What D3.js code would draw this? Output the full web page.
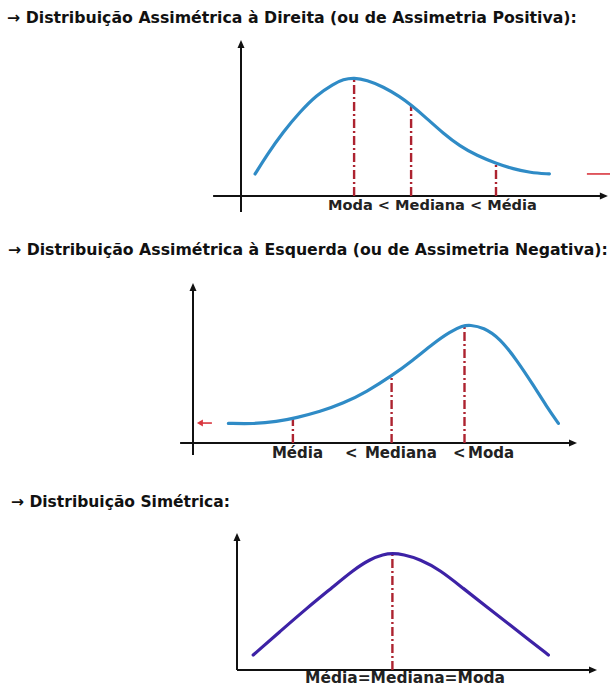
<!DOCTYPE html>
<html>
<head>
<meta charset="utf-8">
<script src="https://cdn.jsdelivr.net/npm/d3@7/dist/d3.min.js"></script>
<style>
  html, body { margin: 0; padding: 0; background: #fff; }
  svg { display: block; }
  text { font-family: "DejaVu Sans", Verdana, sans-serif; font-weight: bold; }
</style>
</head>
<body>
<svg id="chart" width="610" height="690"></svg>
<script>
// Section headings
const titles = [
  "→ Distribuição Assimétrica à Direita (ou de Assimetria Positiva):",
  "→ Distribuição Assimétrica à Esquerda (ou de Assimetria Negativa):",
  "→ Distribuição Simétrica:"
];

// Right-skewed curve (x, density)
const rightX = [4.7, 8.6, 14.1, 19.7, 25.2, 30.8, 34.1, 37.7, 41.9, 47.4, 53, 56.7, 61.9, 67.4, 73, 78.6, 85, 90.8, 96.3, 102.8];
const rightY = [14.7, 27.3, 42.9, 56.2, 67.3, 74.7, 77.8, 78.9, 77.3, 72.9, 66.2, 60.7, 51.8, 41.8, 33.2, 27.0, 21.8, 18.0, 15.6, 14.7];
const rightMarks = [37.7, 56.7, 85];            // moda, mediana, média
const rightLabel = "Moda < Mediana < Média";

// Left-skewed curve
const leftX = [11.8, 20.1, 27.9, 34.6, 42.3, 50.1, 57.9, 66.2, 73.4, 80.1, 85.7, 89.9, 92.3, 96.8, 102.3, 107.9, 113.4, 117.9, 121.8];
const leftY = [13.1, 12.7, 14.2, 16.9, 20.9, 26.4, 34.2, 44.7, 55.3, 66.4, 74.2, 78.2, 78.7, 77.1, 69.8, 55.3, 38.7, 24.2, 13.1];
const leftMarks = [33.3, 66.2, 90.5];           // média, mediana, moda
const leftLabels = ["Média", "<", "Mediana", "<", "Moda"];
const leftLabelX = [26.3, 50.7, 57.3, 86.7, 91.7];

// Symmetric curve
const symX = [5.4, 14.3, 23.2, 32.1, 38.8, 44.3, 48.8, 51.8, 55.4, 61, 67.7, 75.4, 83.2, 91, 97.7, 103.8];
const symY = [10, 25.6, 41.1, 55.6, 66.7, 73.8, 77.1, 77.8, 77.1, 73.8, 66.7, 54.4, 42.2, 30, 19.6, 10];
const symMarks = [51.8];
const symLabel = "Média=Mediana=Moda";

const svg = d3.select("#chart");

// fit a text element to a given pixel width by scaling its font size
function fitWidth(sel, target) {
  const w = sel.node().getComputedTextLength();
  const fs = parseFloat(sel.attr("font-size"));
  sel.attr("font-size", (fs * target / w).toFixed(2));
  return sel;
}

// headings
const titlePos = [{x: 7, y: 23, w: 570}, {x: 8, y: 255, w: 600}, {x: 11, y: 507, w: 219}];
titles.forEach((t, i) => {
  const s = svg.append("text")
    .attr("x", titlePos[i].x).attr("y", titlePos[i].y)
    .attr("font-size", 12).attr("fill", "#111").text(t);
  fitWidth(s, titlePos[i].w);
});

const DASH = "#ad2330";

function panel(cfg) {
  const x = d3.scaleLinear().domain([0, 120]).range([cfg.ox, cfg.ox + 360]);
  const y = d3.scaleLinear().domain([0, 100]).range([cfg.oy, cfg.oy - 150]);
  const g = svg.append("g");

  // axes
  g.append("line")
    .attr("x1", x(cfg.xAxis[0])).attr("x2", x(cfg.xAxis[1]) - 6)
    .attr("y1", y(0)).attr("y2", y(0))
    .attr("stroke", "#111").attr("stroke-width", 2);
  g.append("path")
    .attr("d", `M${x(cfg.xAxis[1])},${y(0)} l-8,-3.5 l0,7 z`)
    .attr("fill", "#111");
  g.append("line")
    .attr("x1", x(0)).attr("x2", x(0))
    .attr("y1", y(cfg.yAxis[0])).attr("y2", y(cfg.yAxis[1]) + 6)
    .attr("stroke", "#111").attr("stroke-width", 2);
  g.append("path")
    .attr("d", `M${x(0)},${y(cfg.yAxis[1])} l-3.5,8 l7,0 z`)
    .attr("fill", "#111");

  const pts = cfg.xs.map((v, i) => [v, cfg.ys[i]]);
  const line = d3.line().x(d => x(d[0])).y(d => y(d[1])).curve(d3.curveBasis);

  // dash-dot reference lines from the axis up to the curve
  const interp = v => {
    for (let i = 0; i < pts.length - 1; i++) {
      if (v >= pts[i][0] && v <= pts[i + 1][0]) {
        const t = (v - pts[i][0]) / (pts[i + 1][0] - pts[i][0]);
        return pts[i][1] + t * (pts[i + 1][1] - pts[i][1]);
      }
    }
    return 0;
  };
  cfg.marks.forEach(m => {
    g.append("line")
      .attr("x1", x(m)).attr("x2", x(m))
      .attr("y1", y(0)).attr("y2", y(interp(m)))
      .attr("stroke", DASH).attr("stroke-width", 2.4)
      .attr("stroke-dasharray", "9,3,2,3");
  });

  g.append("path")
    .attr("d", line(pts))
    .attr("fill", "none")
    .attr("stroke", cfg.color).attr("stroke-width", 3.2)
    .attr("stroke-linecap", "round");

  return {x, y, g};
}

// right-skewed
const p1 = panel({ox: 241, oy: 196, xAxis: [-9.3, 122.3], yAxis: [-10.7, 104],
  xs: rightX, ys: rightY, marks: rightMarks, color: "#2f8bc6"});
fitWidth(p1.g.append("text")
  .attr("x", p1.x(29)).attr("y", 210).attr("font-size", 12).attr("fill", "#222")
  .text(rightLabel), 209);
// red arrow at right
p1.g.append("line")
  .attr("x1", p1.x(115.3)).attr("x2", p1.x(124)).attr("y1", p1.y(14.7)).attr("y2", p1.y(14.7))
  .attr("stroke", "#d9363e").attr("stroke-width", 1.6);

// left-skewed
const p2 = panel({ox: 193, oy: 443, xAxis: [-4.3, 128], yAxis: [-8, 106.7],
  xs: leftX, ys: leftY, marks: leftMarks, color: "#2f8bc6"});
const lbl = leftLabels.map((t, i) => p2.g.append("text")
  .attr("x", p2.x(leftLabelX[i])).attr("y", 458).attr("font-size", 12)
  .attr("fill", "#222").text(t));
fitWidth(lbl[2], 72);
lbl.forEach(s => s.attr("font-size", lbl[2].attr("font-size")));
// red arrow at left
p2.g.append("line")
  .attr("x1", p2.x(6.3)).attr("x2", p2.x(2.3)).attr("y1", p2.y(13.3)).attr("y2", p2.y(13.3))
  .attr("stroke", "#d9363e").attr("stroke-width", 1.6);
p2.g.append("path")
  .attr("d", `M${p2.x(1.3)},${p2.y(13.3)} l6,-3.5 l0,7 z`).attr("fill", "#d9363e");

// symmetric
const p3 = panel({ox: 237, oy: 670, xAxis: [0, 120], yAxis: [0, 91.3],
  xs: symX, ys: symY, marks: symMarks, color: "#3d22a6"});
fitWidth(p3.g.append("text")
  .attr("x", p3.x(22.7)).attr("y", 683).attr("font-size", 12).attr("fill", "#222")
  .text(symLabel), 200);
</script>
</body>
</html>
